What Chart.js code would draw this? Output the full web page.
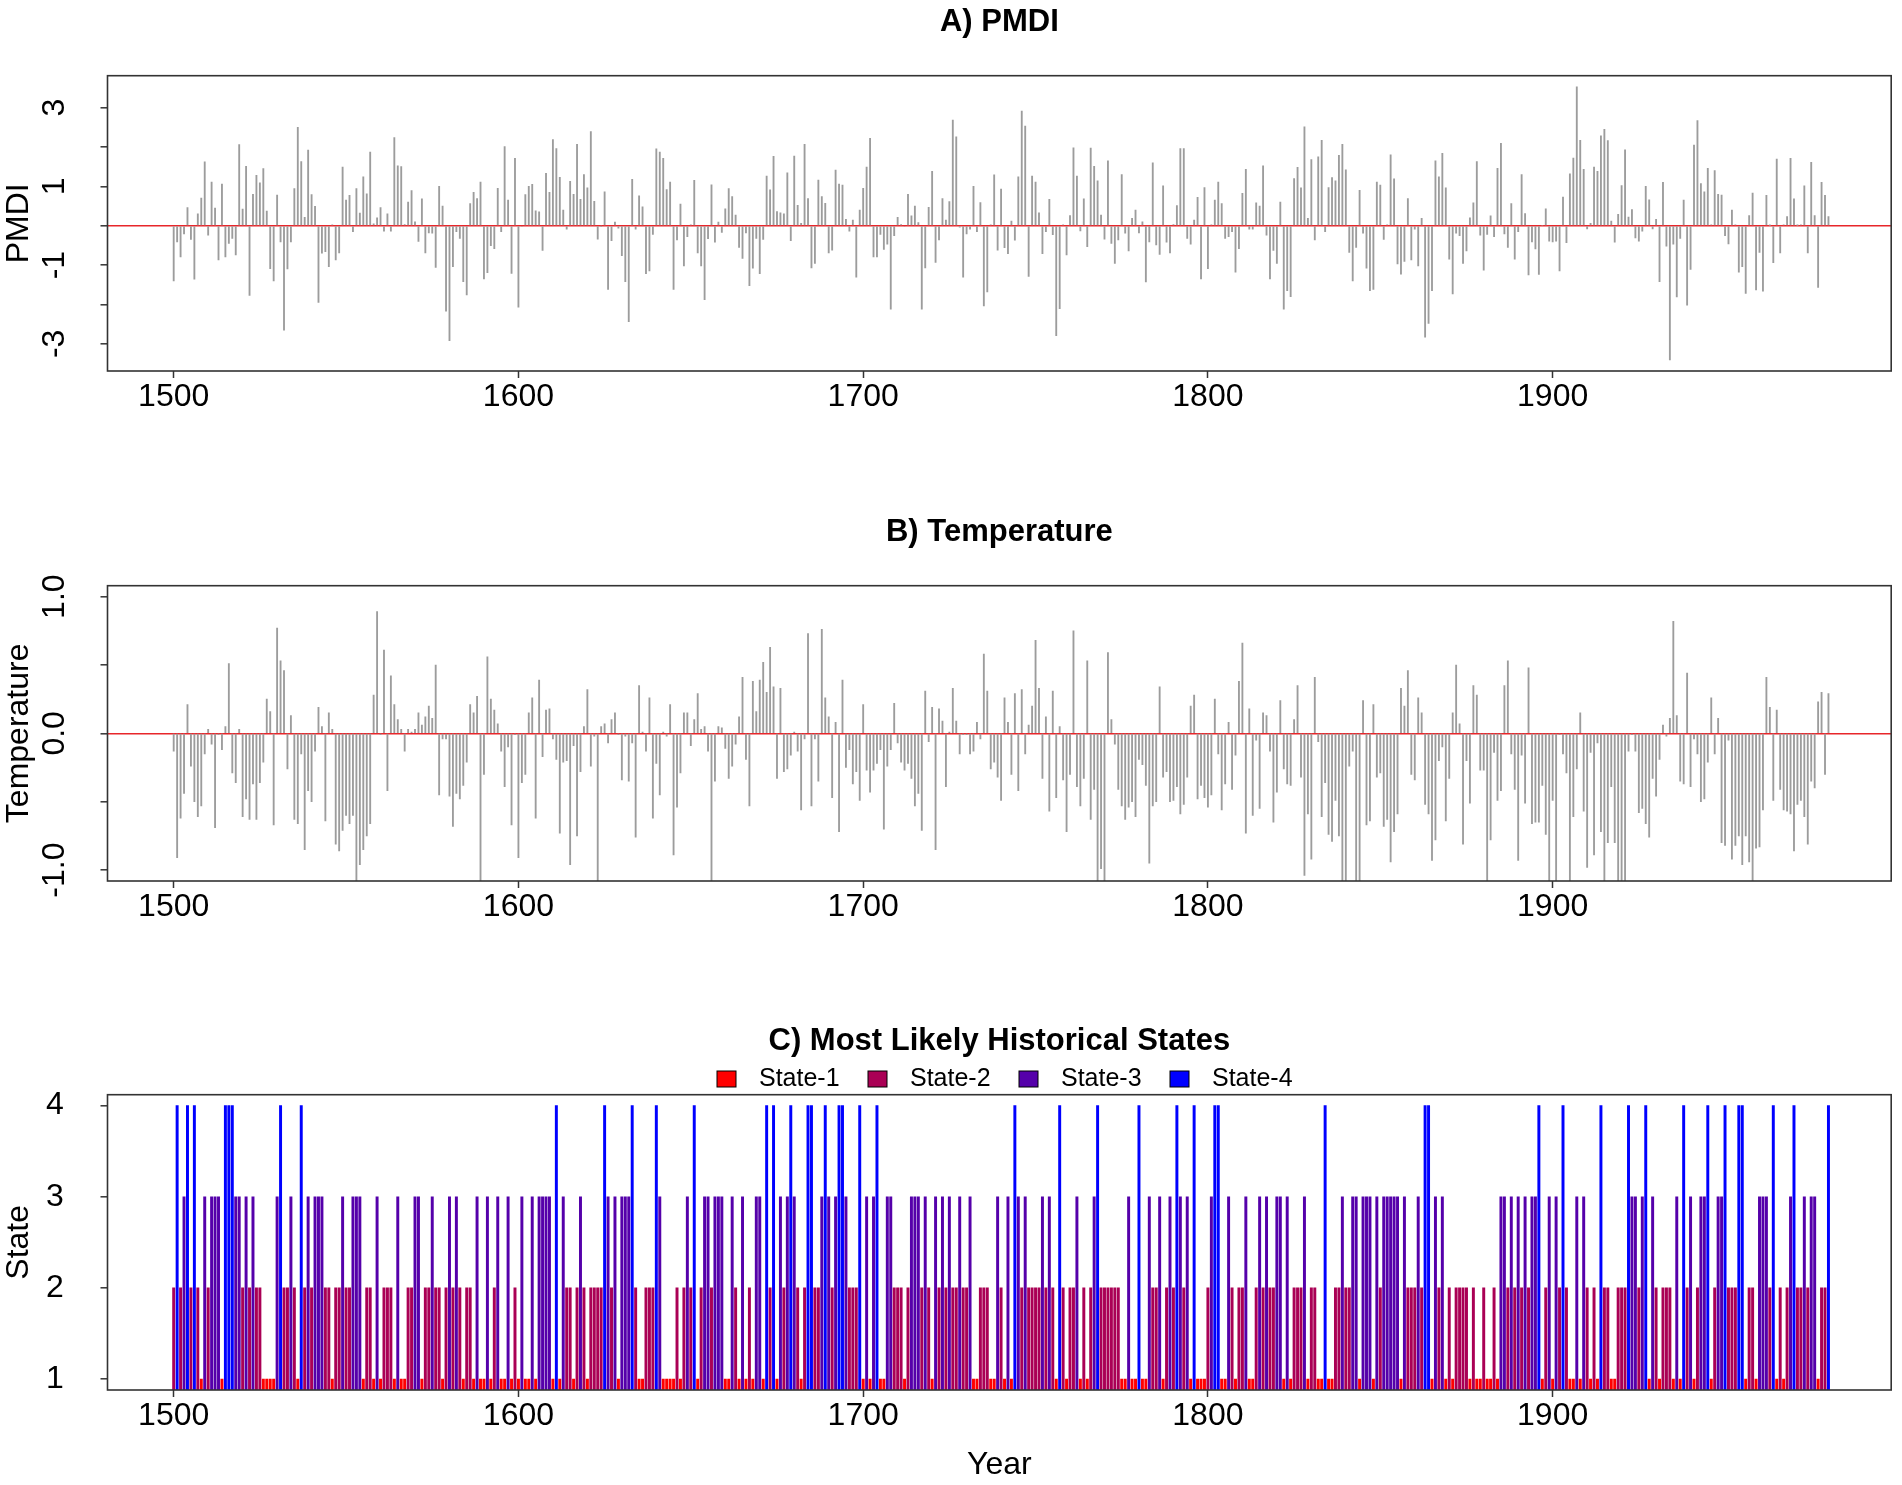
<!DOCTYPE html>
<html>
<head>
<meta charset="utf-8">
<title>PMDI, Temperature and Historical States</title>
<script src="https://cdn.jsdelivr.net/npm/chart.js@4.4.1/dist/chart.umd.min.js"></script>
<style>
    body { margin: 0; background: #fff; width: 1902px; height: 1485px; position: relative; overflow: hidden; }
    canvas { position: absolute; left: 0; }
</style>
</head>
<body>
<canvas id="pmdi-chart" width="1902" height="510" style="top:0px"></canvas>
<canvas id="temperature-chart" width="1902" height="510" style="top:510px"></canvas>
<canvas id="state-chart" width="1902" height="466" style="top:1019px"></canvas>
<script>
const firstYear = 1500

const pmdiValues = [
    -1.40, -0.41, -0.79, -0.21, 0.46, -0.35, -1.36, 0.30, 0.70, 1.62,
    -0.24, 1.11, 0.45, -0.87, 1.06, -0.79, -0.45, -0.32, -0.74, 2.06,
    0.42, 1.51, -1.77, 0.80, 1.28, 1.09, 1.45, 0.37, -1.09, -1.40,
    0.78, -0.41, -2.65, -1.10, -0.41, 0.94, 2.50, 1.63, 0.21, 1.92,
    0.79, 0.49, -1.95, -0.70, -0.66, -1.04, 0.02, -0.87, -0.69, 1.49,
    0.65, 0.77, -0.15, 0.94, 0.32, 1.24, 0.81, 1.87, 0.05, 0.20,
    0.46, -0.14, 0.30, -0.14, 2.24, 1.52, 1.50, 0.03, 0.60, 0.89,
    0.10, -0.40, 0.68, -0.69, -0.18, -0.19, -1.06, 1.00, 0.50, -2.17,
    -2.92, -1.04, -0.15, -0.32, -1.42, -1.76, 0.56, 0.85, 0.69, 1.11,
    -1.35, -1.19, -0.51, -0.58, 0.95, -0.15, 2.01, 0.65, -1.21, 1.71,
    -2.07, -0.02, 0.79, 1.00, 1.05, 0.38, 0.35, -0.63, 1.33, 0.85,
    2.19, 1.96, 1.23, 0.40, -0.09, 1.13, 0.80, 2.07, 0.67, 1.30,
    0.96, 2.39, 0.62, -0.34, -0.01, 0.86, -1.62, -0.38, 0.09, -0.06,
    -0.76, -1.42, -2.44, 1.18, -0.09, 0.76, 0.48, -1.22, -1.15, -0.22,
    1.95, 1.87, 1.71, 0.92, 1.11, -1.62, -0.36, 0.55, -1.02, -0.28,
    0.02, 1.15, -0.69, -1.02, -1.88, -0.33, 1.04, -0.42, 0.09, -0.17,
    0.43, 0.94, 0.74, 0.27, -0.55, -0.83, -0.18, -1.52, -1.08, -0.32,
    -1.22, -0.35, 1.26, 0.91, 1.76, 0.36, 0.33, 0.30, 1.34, -0.38,
    1.77, 0.52, 0.06, 2.07, 0.69, -1.07, -0.96, 1.16, 0.74, 0.57,
    -0.69, -0.62, 1.41, 1.06, 1.03, 0.16, -0.14, 0.14, -1.31, 0.40,
    0.95, 1.49, 2.22, -0.79, -0.79, -0.22, -0.60, -0.47, -2.12, -0.25,
    0.21, 0.03, -0.02, 0.80, 0.25, 0.50, 0.08, -2.12, -1.07, 0.47,
    1.38, -0.93, -0.36, 0.69, 0.14, 0.61, 2.68, 2.26, -0.04, -1.31,
    -0.21, -0.09, 1.00, -0.15, 0.59, -2.04, -1.68, 0.02, 1.29, -0.62,
    0.93, -0.56, -0.71, 0.12, -0.37, 1.24, 2.91, 2.53, -1.29, 1.26,
    1.11, 0.33, -0.71, -0.15, 0.67, -0.23, -2.79, -2.11, 0.02, -0.74,
    0.26, 1.98, 1.26, -0.13, 0.68, -0.53, 1.97, 1.51, 1.14, 0.27,
    -0.34, 1.65, -0.45, -0.96, -0.36, 1.30, -0.19, -0.64, 0.19, 0.40,
    -0.18, 0.10, -1.43, -0.41, 1.60, -0.49, -0.73, 1.01, -0.42, -0.69,
    0.03, 0.51, 1.96, 1.96, -0.32, -0.47, 0.14, 0.72, -1.35, 0.97,
    -1.09, 0.02, 0.65, 1.11, 0.56, -0.32, -0.28, -0.15, -1.18, -0.58,
    0.82, 1.43, -0.09, -0.09, 0.58, 0.50, 1.52, -0.24, -1.35, -0.63,
    -0.96, 0.60, -2.12, -1.65, -1.80, 1.20, 1.48, 0.96, 2.51, 0.19,
    1.68, -0.36, 1.75, 2.17, -0.15, 0.97, 1.22, 1.14, 1.79, 2.07,
    1.42, -0.68, -1.40, -0.55, 0.90, -0.19, -1.08, -1.65, -1.62, 1.11,
    1.03, -0.35, 0.02, 1.80, 1.19, -0.97, -1.23, -0.91, 0.69, -0.87,
    -0.09, -1.02, 0.19, -2.83, -2.48, -1.65, 1.65, 1.24, 1.84, 0.96,
    -0.85, -1.73, -0.19, -0.25, -0.96, -0.64, 0.20, 0.58, 1.63, -0.24,
    -1.13, -0.22, 0.25, -0.28, 1.46, 2.09, -0.21, -0.55, 0.56, -0.85,
    -0.15, 1.30, 0.31, -1.25, -0.41, -0.59, -1.24, 0.00, 0.43, -0.39,
    -0.41, -0.39, -1.15, 0.73, -0.43, 1.32, 1.72, 3.53, 2.17, 1.43,
    -0.08, 0.06, 1.49, 1.38, 2.28, 2.45, 2.16, 0.12, -0.42, 0.29,
    1.02, 1.93, 0.22, 0.41, -0.31, -0.39, -0.14, 1.00, 0.66, -0.08,
    0.16, -1.42, 1.10, -0.52, -3.41, -0.47, -1.81, -0.32, 0.65, -2.02,
    -1.11, 2.05, 2.67, 1.07, 0.86, 1.46, 0.02, 1.40, 0.80, 0.78,
    -0.25, -0.46, 0.40, 0.02, -1.18, -1.04, -1.72, 0.26, 0.83, -1.63,
    -0.68, -1.66, 0.77, 0.01, -0.94, 1.69, -0.69, 0.02, 0.23, 1.71,
    0.68, 0.01, 0.02, 1.01, -0.69, 1.61, 0.26, -1.57, 1.10, 0.77,
    0.23
]

const temperatureValues = [
    -0.13, -0.91, -0.62, -0.44, 0.21, -0.24, -0.50, -0.61, -0.53, -0.15,
    0.03, -0.08, -0.69, -0.01, -0.12, 0.05, 0.51, -0.29, -0.36, 0.03,
    -0.61, -0.48, -0.63, -0.37, -0.63, -0.36, -0.21, 0.25, 0.16, -0.67,
    0.77, 0.53, 0.46, -0.26, 0.13, -0.63, -0.66, -0.15, -0.85, -0.42,
    -0.50, -0.13, 0.19, 0.05, -0.64, 0.15, 0.03, -0.81, -0.86, -0.71,
    -0.60, -0.66, -0.60, -1.15, -0.96, -0.85, -0.75, -0.66, 0.28, 0.89,
    -0.01, 0.61, -0.42, 0.42, 0.21, 0.10, 0.03, -0.13, 0.03, 0.01,
    0.03, 0.15, 0.06, 0.12, 0.20, 0.11, 0.50, -0.45, -0.04, -0.04,
    -0.46, -0.68, -0.44, -0.48, -0.38, -0.21, 0.21, 0.15, 0.27, -1.15,
    -0.30, 0.56, 0.25, 0.17, 0.07, -0.13, -0.39, -0.10, -0.67, -0.01,
    -0.91, -0.36, -0.30, 0.15, 0.26, -0.62, 0.39, -0.17, 0.17, 0.18,
    -0.04, -0.19, -0.73, -0.21, -0.20, -0.96, -0.09, -0.75, -0.28, 0.05,
    0.32, -0.24, -0.02, -1.15, 0.05, 0.07, -0.07, 0.10, 0.15, -0.01,
    -0.34, -0.02, -0.35, -0.07, -0.76, 0.35, 0.01, -0.13, 0.26, -0.62,
    -0.22, -0.45, 0.01, -0.02, 0.21, -0.89, -0.54, -0.29, 0.15, 0.15,
    -0.09, 0.10, 0.29, 0.03, 0.05, -0.13, -1.15, -0.35, 0.05, 0.04,
    -0.11, -0.33, -0.24, -0.08, 0.12, 0.41, -0.19, -0.53, 0.38, 0.16,
    0.39, 0.52, 0.30, 0.63, 0.34, -0.33, 0.33, -0.28, -0.26, -0.16,
    0.01, -0.13, -0.56, -0.04, 0.73, -0.53, -0.04, -0.35, 0.76, 0.26,
    0.12, -0.47, 0.08, -0.72, 0.39, -0.25, -0.12, -0.37, -0.28, -0.49,
    0.21, -0.27, -0.43, -0.27, -0.22, -0.12, -0.70, -0.24, -0.12, 0.22,
    -0.07, -0.21, -0.27, -0.22, -0.33, -0.53, -0.44, -0.71, 0.31, -0.06,
    0.19, -0.85, 0.18, 0.09, -0.39, 0.01, 0.33, 0.09, -0.15, -0.01,
    -0.01, -0.15, -0.13, 0.08, -0.04, 0.58, 0.31, -0.26, -0.21, -0.32,
    -0.49, 0.26, 0.08, -0.30, 0.29, -0.42, 0.32, -0.15, 0.06, 0.20,
    0.68, 0.33, -0.33, 0.12, -0.57, 0.31, -0.47, 0.05, -0.34, -0.72,
    -0.30, 0.75, -0.39, -0.53, -0.33, 0.53, -0.63, -0.41, -1.15, -0.99,
    -1.15, 0.59, 0.10, -0.08, -0.41, -0.53, -0.63, -0.54, -0.50, -0.61,
    -0.19, -0.23, -0.38, -0.95, -0.53, -0.50, 0.34, -0.32, -0.28, -0.50,
    -0.49, -0.39, -0.59, -0.52, -0.32, 0.20, 0.28, -0.48, -0.38, -0.47,
    -0.54, -0.45, 0.25, -0.15, -0.56, -0.37, 0.08, -0.41, -0.16, 0.38,
    0.66, -0.73, 0.18, -0.60, -0.05, -0.55, 0.15, 0.13, -0.13, -0.65,
    -0.43, 0.24, -0.26, -0.37, -0.38, 0.10, 0.35, -0.32, -1.04, -0.59,
    -0.92, 0.41, -0.06, -0.61, -0.36, -0.74, -0.79, -0.49, -0.75, -1.15,
    -1.15, -0.24, -0.13, -1.15, -1.15, 0.24, -0.67, -0.64, 0.21, -0.32,
    -0.29, -0.68, -0.63, -0.94, -0.72, -0.59, 0.33, 0.20, 0.46, -0.30,
    -0.34, 0.26, 0.15, -0.52, -0.59, -0.93, -0.78, -0.20, -0.10, -0.64,
    -0.33, 0.15, 0.50, 0.07, -0.81, -0.20, -0.51, 0.35, 0.28, -0.27,
    -0.27, -1.15, -0.78, -0.14, -0.49, -0.42, 0.35, 0.53, -0.15, -0.41,
    -0.93, -0.16, -0.51, 0.48, -0.66, -0.65, -0.65, -0.38, -0.74, -1.15,
    -0.49, -1.15, -0.01, -0.15, -0.29, -1.15, -0.61, -0.26, 0.15, -0.57,
    -0.98, -0.14, -0.89, -0.07, -0.72, -1.15, -0.80, -0.39, -0.80, -1.15,
    -1.15, -1.15, -0.13, -0.01, -0.13, -0.58, -0.55, -0.66, -0.76, -0.33,
    -0.46, -0.19, 0.06, -0.02, 0.11, 0.82, 0.13, -0.35, -0.37, 0.44,
    -0.39, -0.04, -0.15, -0.50, -0.48, -0.21, 0.26, -0.15, 0.11, -0.80,
    -0.82, -0.05, -0.92, -0.82, -0.75, -0.96, -0.75, -0.94, -1.15, -0.84,
    -0.83, -0.56, 0.41, 0.19, -0.49, 0.17, -0.41, -0.56, -0.57, -0.59,
    -0.86, -0.52, -0.49, -0.61, -0.81, -0.35, -0.40, 0.23, 0.30, -0.30,
    0.29
]

const stateValues = [
    2, 4, 2, 3, 4, 2, 4, 2, 1, 3,
    2, 3, 3, 3, 1, 4, 4, 4, 3, 3,
    2, 3, 2, 3, 2, 2, 1, 1, 1, 1,
    3, 4, 2, 2, 3, 2, 1, 4, 2, 3,
    2, 3, 3, 3, 2, 2, 1, 2, 2, 3,
    2, 2, 3, 3, 3, 1, 2, 2, 1, 3,
    1, 2, 2, 2, 1, 3, 1, 1, 2, 2,
    3, 3, 1, 2, 2, 3, 2, 2, 1, 2,
    3, 2, 3, 2, 1, 2, 2, 1, 3, 1,
    1, 3, 1, 2, 3, 1, 1, 3, 1, 2,
    1, 3, 1, 1, 3, 1, 3, 3, 3, 3,
    1, 4, 1, 3, 2, 2, 1, 2, 3, 2,
    1, 2, 2, 2, 2, 4, 3, 2, 3, 1,
    3, 3, 3, 4, 2, 1, 1, 2, 2, 2,
    4, 3, 1, 1, 1, 1, 2, 1, 2, 3,
    2, 4, 1, 2, 3, 3, 2, 3, 3, 3,
    1, 1, 3, 2, 1, 3, 1, 2, 1, 3,
    3, 1, 4, 2, 4, 1, 3, 2, 3, 4,
    3, 2, 1, 2, 4, 4, 2, 2, 3, 4,
    3, 2, 3, 4, 4, 3, 2, 2, 2, 4,
    1, 3, 1, 3, 4, 1, 1, 3, 3, 2,
    2, 2, 1, 2, 3, 3, 3, 2, 3, 2,
    1, 3, 2, 3, 2, 3, 2, 2, 3, 2,
    2, 3, 1, 1, 2, 2, 2, 1, 1, 3,
    2, 1, 3, 1, 4, 3, 2, 3, 2, 2,
    2, 2, 3, 2, 3, 2, 1, 4, 2, 1,
    2, 2, 3, 1, 2, 1, 2, 3, 4, 2,
    2, 2, 2, 2, 2, 1, 1, 3, 1, 1,
    4, 1, 1, 3, 2, 2, 3, 1, 2, 3,
    2, 4, 3, 2, 3, 1, 4, 1, 1, 1,
    2, 3, 4, 4, 1, 1, 3, 2, 1, 2,
    2, 3, 1, 1, 2, 3, 2, 3, 2, 2,
    3, 3, 1, 3, 1, 2, 2, 2, 3, 1,
    2, 2, 1, 1, 4, 1, 1, 2, 2, 3,
    2, 2, 3, 3, 1, 3, 3, 3, 1, 3,
    2, 3, 3, 3, 3, 3, 1, 3, 2, 2,
    2, 3, 2, 4, 4, 1, 3, 2, 3, 1,
    2, 1, 2, 2, 2, 2, 1, 2, 1, 1,
    2, 1, 1, 2, 1, 3, 3, 2, 3, 2,
    3, 2, 3, 2, 3, 3, 4, 1, 2, 3,
    1, 3, 2, 4, 2, 1, 1, 3, 1, 3,
    2, 1, 2, 1, 4, 2, 2, 1, 1, 2,
    2, 2, 4, 3, 3, 2, 3, 4, 1, 3,
    2, 1, 2, 2, 2, 1, 3, 1, 4, 2,
    3, 1, 2, 3, 3, 4, 1, 2, 3, 3,
    4, 2, 2, 2, 4, 4, 1, 2, 2, 1,
    3, 3, 3, 2, 4, 1, 2, 1, 2, 3,
    4, 2, 2, 3, 2, 3, 3, 1, 2, 2,
    4
]

const yearTicks = [1500, 1600, 1700, 1800, 1900]
const pmdiTicks = [-3, -2, -1, 0, 1, 2, 3]
const pmdiTickLabels = ['-3', '', '-1', '', '1', '', '3']
const temperatureTicks = [-1, -0.5, 0, 0.5, 1]
const temperatureTickLabels = ['-1.0', '', '0.0', '', '1.0']
const stateTicks = [1, 2, 3, 4]
const stateTickLabels = ['1', '2', '3', '4']
const stateNames = ['State-1', 'State-2', 'State-3', 'State-4']
const stateColors = ['#ff0000', '#aa0055', '#5500aa', '#0000ff']

const years = pmdiValues.map((v, i) => firstYear + i)
const fontFamily = "'Liberation Sans', Arial, Helvetica, sans-serif"

Chart.defaults.font.family = fontFamily
Chart.defaults.color = '#000'

$ready(() => {
    createValueChart('pmdi-chart', 'A) PMDI', 'PMDI', pmdiValues, -3.69, 3.81, pmdiTicks, pmdiTickLabels)
    createValueChart('temperature-chart', 'B) Temperature', 'Temperature', temperatureValues, -1.08, 1.08, temperatureTicks, temperatureTickLabels)
    createStateChart()
})

function $ready(fn) {
    if (document.readyState !== 'loading') fn()
    else document.addEventListener('DOMContentLoaded', fn)
}

function panelDecor(cfg) {
    return {
        id: 'panelDecor',
        afterDatasetsDraw(chart) {
            const { ctx, chartArea } = chart
            ctx.save()
            ctx.strokeStyle = '#333'
            ctx.lineWidth = 1.6
            ctx.strokeRect(chartArea.left, chartArea.top, chartArea.right - chartArea.left, chartArea.bottom - chartArea.top)
            ctx.restore()
        },
        afterDraw(chart) {
            const { ctx, chartArea } = chart
            const yScale = chart.scales.y
            const midX = (chartArea.left + chartArea.right) / 2
            const midY = (chartArea.top + chartArea.bottom) / 2
            ctx.save()
            ctx.fillStyle = '#000'
            ctx.textAlign = 'center'
            ctx.textBaseline = 'middle'

            ctx.font = `bold 31px ${fontFamily}`
            ctx.fillText(cfg.title, midX, 22)

            ctx.font = `32px ${fontFamily}`
            cfg.tickValues.forEach((value, i) => {
                const label = cfg.tickLabels[i]
                if (!label) return
                const y = yScale.getPixelForValue(value)
                if (cfg.rotateTicks) {
                    ctx.save()
                    ctx.translate(55, y)
                    ctx.rotate(-Math.PI / 2)
                    ctx.fillText(label, 0, 0)
                    ctx.restore()
                } else {
                    ctx.fillText(label, 55, y)
                }
            })

            ctx.save()
            ctx.translate(19, midY)
            ctx.rotate(-Math.PI / 2)
            ctx.fillText(cfg.yTitle, 0, 0)
            ctx.restore()

            if (cfg.xTitle) {
                ctx.fillText(cfg.xTitle, midX, 446)
            }

            if (cfg.legend) {
                ctx.font = `25px ${fontFamily}`
                ctx.textAlign = 'left'
                cfg.legend.forEach((item, i) => {
                    const x = 717 + i * 151
                    ctx.fillStyle = item.color
                    ctx.fillRect(x, 52, 19, 16)
                    ctx.strokeStyle = '#000'
                    ctx.lineWidth = 1
                    ctx.strokeRect(x, 52, 19, 16)
                    ctx.fillStyle = '#000'
                    ctx.fillText(item.name, x + 42, 60)
                })
            }
            ctx.restore()
        }
    }
}

function xScaleOptions() {
    return {
        type: 'linear',
        min: 1480.8,
        max: 1998.2,
        offset: false,
        afterBuildTicks: scale => { scale.ticks = yearTicks.map(value => ({ value })) },
        afterFit: scale => { scale.height = 40 },
        ticks: {
            font: { size: 32 },
            color: '#000',
            padding: 0,
            maxRotation: 0,
            callback: value => String(value)
        },
        grid: {
            offset: false,
            drawOnChartArea: false,
            drawTicks: true,
            tickLength: 7,
            tickColor: '#333',
            tickWidth: 1.5
        },
        border: { display: false }
    }
}

function yScaleOptions(min, max, tickValues, zeroLine) {
    return {
        type: 'linear',
        min,
        max,
        afterBuildTicks: scale => { scale.ticks = tickValues.map(value => ({ value })) },
        afterFit: scale => { scale.width = 40 },
        ticks: { display: false },
        grid: {
            drawOnChartArea: true,
            color: ctx => (zeroLine && ctx.tick && ctx.tick.value === 0) ? '#e8262b' : 'rgba(0,0,0,0)',
            lineWidth: 1.6,
            drawTicks: true,
            tickLength: 7,
            tickColor: '#333',
            tickWidth: 1.5
        },
        border: { display: false }
    }
}

function createValueChart(canvasId, title, yTitle, values, min, max, tickValues, tickLabels) {
    const chart = document.querySelector('#' + canvasId)
    new Chart(chart, {
        type: 'bar',
        data: {
            datasets: [
                {
                    label: yTitle,
                    data: values.map((v, i) => ({ x: years[i], y: v })),
                    backgroundColor: '#9c9c9c',
                    borderWidth: 0,
                    barThickness: 1.2,
                    clip: 0
                }
            ]
        },
        options: {
            responsive: false,
            animation: false,
            layout: { padding: { left: 67.5, right: 10.8, top: 75.7, bottom: 99 } },
            plugins: { legend: { display: false }, tooltip: { enabled: false } },
            scales: {
                x: xScaleOptions(),
                y: yScaleOptions(min, max, tickValues, true)
            }
        },
        plugins: [panelDecor({ title, yTitle, tickValues, tickLabels, rotateTicks: true })]
    })
}

function createStateChart() {
    const chart = document.querySelector('#state-chart')
    new Chart(chart, {
        type: 'bar',
        data: {
            datasets: [
                {
                    label: 'State',
                    data: stateValues.map((s, i) => ({ x: years[i], y: s })),
                    backgroundColor: stateValues.map(s => stateColors[s - 1]),
                    borderWidth: 0,
                    barThickness: 2.3,
                    clip: 0
                }
            ]
        },
        options: {
            responsive: false,
            animation: false,
            layout: { padding: { left: 67.5, right: 10.8, top: 75.7, bottom: 55 } },
            plugins: { legend: { display: false }, tooltip: { enabled: false } },
            scales: {
                x: xScaleOptions(),
                y: yScaleOptions(0.88, 4.12, stateTicks, false)
            }
        },
        plugins: [panelDecor({
            title: 'C) Most Likely Historical States',
            yTitle: 'State',
            xTitle: 'Year',
            tickValues: stateTicks,
            tickLabels: stateTickLabels,
            rotateTicks: false,
            legend: stateNames.map((name, i) => ({ name, color: stateColors[i] }))
        })]
    })
}
</script>
</body>
</html>
